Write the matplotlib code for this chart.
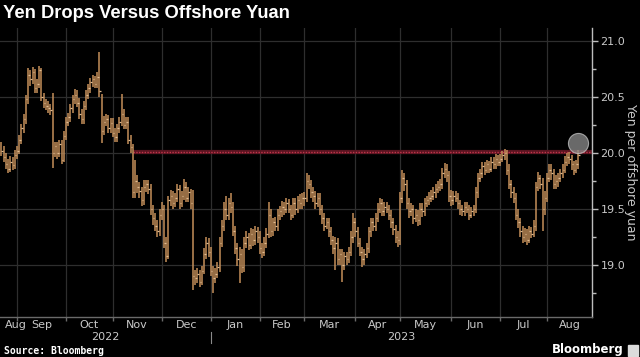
import numpy as np
import pandas as pd
import matplotlib
matplotlib.use('Agg')
import matplotlib.pyplot as plt

# Daily CNH/JPY bars (yen per offshore yuan), one line per month
closes = [
    20.02, 19.96, 19.9, 19.86, 19.92, 19.89, 19.98,  # Aug 2022
    20.02, 20.12, 20.22, 20.3, 20.48, 20.70, 20.66, 20.72, 20.58, 20.62, 20.74,
    20.5, 20.45, 20.42, 20.4, 20.38, 20.0, 20.06, 20.0, 20.08, 19.94, 20.15,  # Sep
    20.28, 20.32, 20.4, 20.48, 20.52, 20.45, 20.35, 20.3, 20.42, 20.52, 20.58,
    20.63, 20.66, 20.62, 20.68, 20.55, 20.2, 20.28, 20.3, 20.22, 20.27,  # Oct
    20.18, 20.14, 20.22, 20.28, 20.35, 20.25, 20.28, 20.12, 20.05, 19.65, 19.75,
    19.7, 19.66, 19.58, 19.7, 19.72, 19.68, 19.5, 19.42, 19.35, 19.3, 19.45,  # Nov
    19.5, 19.2, 19.08, 19.58, 19.62, 19.55, 19.6, 19.68, 19.55, 19.62, 19.7,
    19.6, 19.65, 19.55, 18.9, 18.88, 18.92, 18.85, 18.95, 19.1, 19.2, 19.12,  # Dec
    18.95, 18.88, 18.92, 18.98, 19.2, 19.35, 19.5, 19.45, 19.55, 19.52, 19.3,
    19.15, 19.05, 19.1, 18.98, 19.2, 19.25, 19.18, 19.28, 19.22, 19.3, 19.25,  # Jan 2023
    19.15, 19.12, 19.2, 19.28, 19.45, 19.3, 19.38, 19.35, 19.45, 19.48,
    19.52, 19.5, 19.55, 19.5, 19.45, 19.55, 19.5, 19.58, 19.55, 19.6,  # Feb
    19.6, 19.75, 19.72, 19.65, 19.62, 19.55, 19.6, 19.5, 19.42, 19.35, 19.38, 19.3,
    19.22, 19.15, 19.2, 19.05, 19.1, 19.0, 19.08, 19.05, 19.12, 19.25, 19.38,  # Mar
    19.3, 19.2, 19.12, 19.05, 19.1, 19.15, 19.3, 19.38, 19.35, 19.42,
    19.5, 19.55, 19.48, 19.52, 19.5, 19.45, 19.38, 19.32, 19.25, 19.22,  # Apr
    19.6, 19.78, 19.72, 19.55, 19.48, 19.5, 19.42, 19.45, 19.4, 19.5, 19.48, 19.55,
    19.58, 19.6, 19.62, 19.65, 19.68, 19.7, 19.72, 19.82, 19.86, 19.8, 19.62,  # May
    19.58, 19.62, 19.6, 19.55, 19.5, 19.48, 19.52, 19.5, 19.45, 19.48, 19.5,
    19.65, 19.78, 19.82, 19.88, 19.85, 19.9, 19.86, 19.92, 19.9, 19.95, 19.92,  # Jun
    19.95, 19.98, 20.0, 19.85, 19.72, 19.65, 19.6, 19.45, 19.38, 19.3, 19.25,
    19.28, 19.22, 19.3, 19.28, 19.35, 19.7, 19.78, 19.72, 19.5, 19.6,  # Jul
    19.78, 19.85, 19.82, 19.72, 19.75, 19.78, 19.82, 19.85, 19.92, 19.96, 19.95,
    19.9, 19.85, 19.9, 19.98,  # Aug
]
highs = [
    20.1, 20.06, 20.0, 19.95, 19.97, 19.96, 20.03,
    20.06, 20.16, 20.26, 20.35, 20.52, 20.76, 20.74, 20.77, 20.75, 20.66, 20.78,
    20.76, 20.54, 20.48, 20.46, 20.44, 20.54, 20.1, 20.1, 20.12, 20.12, 20.2,
    20.32, 20.36, 20.44, 20.52, 20.57, 20.56, 20.49, 20.39, 20.46, 20.56, 20.62,
    20.67, 20.7, 20.69, 20.72, 20.9, 20.53, 20.33, 20.35, 20.34, 20.31,
    20.31, 20.22, 20.26, 20.32, 20.53, 20.39, 20.32, 20.32, 20.16, 20.08, 19.94,
    19.8, 19.74, 19.7, 19.76, 19.76, 19.76, 19.72, 19.54, 19.46, 19.4, 19.5,
    19.56, 19.54, 19.25, 19.62, 19.67, 19.66, 19.64, 19.72, 19.71, 19.66, 19.77,
    19.74, 19.7, 19.68, 19.67, 18.96, 18.97, 18.96, 18.99, 19.15, 19.25, 19.24,
    19.16, 18.99, 18.97, 19.03, 19.25, 19.4, 19.56, 19.62, 19.6, 19.64, 19.56,
    19.35, 19.2, 19.16, 19.14, 19.25, 19.3, 19.29, 19.33, 19.32, 19.35, 19.34,
    19.3, 19.2, 19.25, 19.33, 19.56, 19.5, 19.42, 19.43, 19.5, 19.53,
    19.57, 19.56, 19.6, 19.59, 19.54, 19.6, 19.6, 19.62, 19.63, 19.64,
    19.65, 19.82, 19.8, 19.76, 19.7, 19.66, 19.64, 19.64, 19.54, 19.46, 19.42, 19.42,
    19.34, 19.26, 19.25, 19.24, 19.14, 19.14, 19.12, 19.12, 19.16, 19.3, 19.46,
    19.42, 19.34, 19.24, 19.16, 19.14, 19.2, 19.34, 19.42, 19.42, 19.46,
    19.55, 19.6, 19.59, 19.56, 19.56, 19.54, 19.49, 19.42, 19.36, 19.3,
    19.65, 19.85, 19.82, 19.76, 19.6, 19.55, 19.54, 19.5, 19.49, 19.55, 19.55, 19.6,
    19.62, 19.65, 19.67, 19.7, 19.72, 19.75, 19.77, 19.87, 19.91, 19.9, 19.84,
    19.67, 19.66, 19.66, 19.64, 19.58, 19.54, 19.56, 19.56, 19.54, 19.52, 19.54,
    19.7, 19.82, 19.86, 19.92, 19.92, 19.94, 19.93, 19.96, 19.96, 19.99, 19.98,
    19.99, 20.02, 20.04, 20.03, 19.9, 19.76, 19.7, 19.64, 19.5, 19.42, 19.35,
    19.33, 19.32, 19.35, 19.34, 19.4, 19.74, 19.83, 19.8, 19.78, 19.66,
    19.82, 19.9, 19.9, 19.86, 19.8, 19.82, 19.86, 19.9, 19.97, 20.0, 20.01,
    19.98, 19.93, 19.94, 20.03,
]
lows = [
    19.97, 19.92, 19.86, 19.82, 19.83, 19.85, 19.86,
    19.95, 19.99, 20.08, 20.18, 20.26, 20.44, 20.6, 20.62, 20.54, 20.54, 20.58,
    20.46, 20.4, 20.38, 20.36, 20.34, 19.87, 19.96, 19.95, 19.96, 19.9, 19.92,
    20.12, 20.24, 20.28, 20.36, 20.44, 20.41, 20.3, 20.26, 20.26, 20.38, 20.48,
    20.54, 20.59, 20.58, 20.58, 20.5, 20.09, 20.16, 20.24, 20.18, 20.18,
    20.14, 20.1, 20.1, 20.18, 20.24, 20.21, 20.21, 20.08, 20.0, 19.6, 19.6,
    19.64, 19.6, 19.53, 19.54, 19.65, 19.63, 19.45, 19.36, 19.3, 19.25, 19.26,
    19.4, 19.15, 19.03, 19.05, 19.53, 19.5, 19.52, 19.56, 19.5, 19.52, 19.58,
    19.56, 19.56, 19.5, 18.78, 18.82, 18.84, 18.8, 18.82, 18.92, 19.05, 19.07,
    18.9, 18.75, 18.84, 18.88, 18.94, 19.16, 19.3, 19.4, 19.4, 19.46, 19.26,
    19.1, 18.99, 18.84, 18.93, 18.94, 19.15, 19.13, 19.14, 19.17, 19.18, 19.2,
    19.1, 19.06, 19.08, 19.15, 19.24, 19.25, 19.26, 19.3, 19.3, 19.4,
    19.43, 19.45, 19.46, 19.46, 19.4, 19.42, 19.45, 19.46, 19.5, 19.5,
    19.53, 19.56, 19.68, 19.6, 19.56, 19.5, 19.52, 19.45, 19.37, 19.3, 19.32, 19.25,
    19.18, 19.1, 18.96, 19.0, 19.0, 18.85, 18.96, 19.0, 19.02, 19.08, 19.2,
    19.25, 19.16, 19.08, 18.98, 19.0, 19.06, 19.11, 19.25, 19.3, 19.3,
    19.38, 19.46, 19.44, 19.44, 19.46, 19.4, 19.33, 19.27, 19.2, 19.16,
    19.18, 19.55, 19.66, 19.5, 19.42, 19.44, 19.37, 19.38, 19.35, 19.36, 19.43, 19.44,
    19.52, 19.54, 19.56, 19.58, 19.6, 19.64, 19.66, 19.68, 19.78, 19.74, 19.56,
    19.53, 19.54, 19.56, 19.5, 19.45, 19.44, 19.44, 19.46, 19.4, 19.42, 19.44,
    19.46, 19.6, 19.74, 19.78, 19.8, 19.82, 19.82, 19.83, 19.86, 19.86, 19.88,
    19.88, 19.92, 19.94, 19.8, 19.68, 19.6, 19.55, 19.4, 19.33, 19.25, 19.2,
    19.21, 19.18, 19.2, 19.24, 19.25, 19.3, 19.66, 19.68, 19.3, 19.45,
    19.56, 19.74, 19.76, 19.68, 19.68, 19.7, 19.74, 19.78, 19.82, 19.88, 19.9,
    19.85, 19.8, 19.82, 19.86,
]
start_date = '2022-08-23'
month_names = ['Aug', 'Sep', 'Oct', 'Nov', 'Dec', 'Jan', 'Feb', 'Mar',
               'Apr', 'May', 'Jun', 'Jul', 'Aug']
year_labels = ['2022', '2023']
level = 20.01       # red reference line
marker_level = 20.09  # grey circle on the last bar
y_ticks = [19.0, 19.5, 20.0, 20.5, 21.0]

dates = pd.bdate_range(start_date, periods=len(closes))
x = np.arange(len(closes))

# month boundaries in bar-index units
month_key = dates.year * 12 + dates.month
starts = [0] + list(np.where(np.diff(month_key) != 0)[0] + 1)
jan_idx = int(np.where((dates.month == 1) & (dates.day <= 3))[0][0])

bg = '#000000'
bar_col = '#c48f5a'
grid_col = '#2e2e2e'
text_col = '#c9c9c9'

W, H = 640, 357
fig = plt.figure(figsize=(W / 100, H / 100), dpi=100, facecolor=bg)
ax = fig.add_axes([0, 40 / H, 592 / W, 289 / H], facecolor=bg)

xmin, xmax = -0.63, 265.2
ax.set_xlim(xmin, xmax)
ax.set_ylim(18.536, 21.116)

# grid
for s in starts[1:]:
    ax.axvline(s, color=grid_col, lw=0.9, zorder=0)
for t in y_ticks:
    ax.axhline(t, color=grid_col, lw=0.9, zorder=0)

# OHLC style bars
ax.vlines(x, lows, highs, color=bar_col, lw=1.1, zorder=2)
ax.hlines(closes, x, x + 0.7, color='#e0bb90', lw=0.9, zorder=3)

# red reference line from the November drop
x_line = 59
ax.hlines(level, x_line, xmax, color='#5a1420', lw=3.0, zorder=1)
ax.hlines(level, x_line, xmax, color='#c0364c', lw=1.0, linestyles=(0, (1, 1)), zorder=1)

# marker on last bar
ax.scatter([x[-1]], [marker_level], s=210, color='#8d8d8d', alpha=0.75,
           edgecolors='#c4c4c4', linewidths=0.8, zorder=4)

# axes styling
for side in ['left', 'top']:
    ax.spines[side].set_visible(False)
ax.spines['right'].set_color('#bdbdbd')
ax.spines['right'].set_linewidth(1.0)
ax.spines['bottom'].set_color('#6a6a6a')
ax.spines['bottom'].set_linewidth(1.0)

ax.yaxis.tick_right()
ax.set_yticks(y_ticks)
ax.set_yticklabels([f'{t:.1f}' for t in y_ticks])
ax.set_yticks([18.75, 19.25, 19.75, 20.25, 20.75], minor=True)
ax.tick_params(axis='y', which='major', colors='#bdbdbd', labelcolor=text_col,
               length=4, width=1, labelsize=8, pad=2)
ax.tick_params(axis='y', which='minor', colors='#bdbdbd', length=3, width=1)

ax.set_xticks(starts[1:])
ax.set_xticklabels([])
ax.tick_params(axis='x', colors='#6a6a6a', length=3, width=1)

# month labels at mid-month
ends = starts[1:] + [xmax]
centers = [(a + b) / 2 for a, b in zip(starts, ends)]
centers[0] = 6.5
for c, name in zip(centers, month_names):
    ax.text(c, -0.012, name, transform=ax.get_xaxis_transform(), ha='center', va='top',
            color=text_col, fontsize=8)
year_pos = [(xmin + jan_idx) / 2, (jan_idx + xmax) / 2]
for c, name in zip(year_pos, year_labels):
    ax.text(c, -0.052, name, transform=ax.get_xaxis_transform(), ha='center', va='top',
            color=text_col, fontsize=8)
ax.plot([jan_idx, jan_idx], [-0.052, -0.09], transform=ax.get_xaxis_transform(),
        color='#8a8a8a', lw=0.8, clip_on=False)

# right axis title
fig.text(630 / W, 1 - 172 / H, 'Yen per offshore yuan', rotation=270, ha='center',
         va='center', color=text_col, fontsize=9)

# title and footer
fig.text(3 / W, 1 - 13 / H, 'Yen Drops Versus Offshore Yuan', ha='left', va='center',
         color='white', fontsize=13.2, fontweight='bold',
         family=['Liberation Sans', 'DejaVu Sans'])
fig.text(4 / W, 1 - 351 / H, 'Source: Bloomberg', ha='left', va='center',
         color='white', fontsize=7, fontweight='bold', family='DejaVu Sans Mono')
fig.text(624 / W, 1 - 350 / H, 'Bloomberg', ha='right', va='center',
         color='white', fontsize=8.5, fontweight='bold')
fig.patches.append(plt.Rectangle((628 / W, 1 - 356 / H), 10 / W, 11 / H,
                                 transform=fig.transFigure, color='#dcdcdc'))

fig.savefig('out.png', dpi=100, facecolor=bg)
